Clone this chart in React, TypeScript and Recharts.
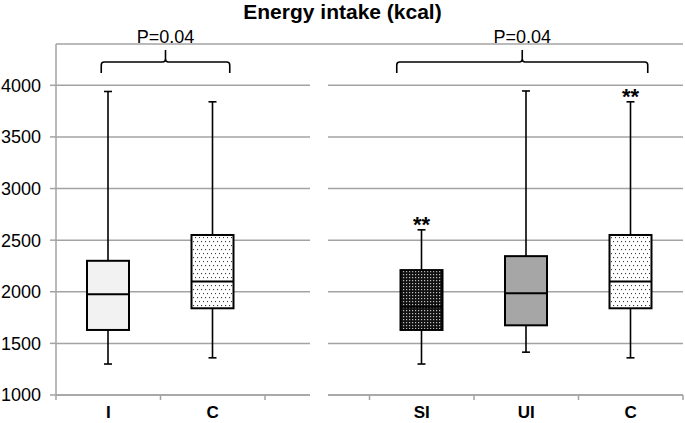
import React from 'react';
import { ComposedChart, Bar, XAxis, YAxis, CartesianGrid, ReferenceLine } from 'recharts';

// one axis, six slots; slot 3 is the empty gap between the two panels
const categoryKeys = ['I', 'C1', 'GAP', 'SI', 'UI', 'C2'];
const categoryLabels = ['I', 'C', '', 'SI', 'UI', 'C'];
const whiskerLow = [1300, 1360, null, 1300, 1415, 1360];
const quartile1 = [1630, 1840, null, 1630, 1675, 1840];
const medians = [1975, 2100, null, 1855, 1985, 2100];
const quartile3 = [2300, 2550, null, 2210, 2345, 2550];
const whiskerHigh = [3940, 3840, null, 2600, 3945, 3840];
const significance = ['', '', '', '**', '', '**'];
const yTicks = [1000, 1500, 2000, 2500, 3000, 3500, 4000];

const comparisonFrom = ['I', 'SI'];
const comparisonTo = ['C1', 'C2'];
const comparisonLabels = ['P=0.04', 'P=0.04'];
const comparisonLevel = 4225;

const boxFills = ['#f2f2f2', 'url(#dotsLight)', 'none', 'url(#dotsDark)', '#a6a6a6', 'url(#dotsLight)'];
const bracketPad = [
  [7, 17],
  [25, 17],
];

const data = categoryKeys.map((key, i) => ({
  key,
  label: categoryLabels[i],
  range: whiskerLow[i] == null ? undefined : [whiskerLow[i], whiskerHigh[i]],
  low: whiskerLow[i],
  q1: quartile1[i],
  median: medians[i],
  q3: quartile3[i],
  high: whiskerHigh[i],
  mark: significance[i],
  fill: boxFills[i],
}));

const FONT = '"Liberation Sans", Arial, Helvetica, sans-serif';
const TICK_SIZE = 6;
const TICK_MARGIN = 5;
const GRID = '#a3a3a3';

function BoxShape(props: any) {
  const { x, y, width, height, payload } = props;
  if (!payload || payload.range == null) return null;
  const top = Math.min(y, y + height);
  const bottom = Math.max(y, y + height);
  const toY = (v: number) => bottom - ((bottom - top) * (v - payload.low)) / (payload.high - payload.low);
  const cx = x + width / 2;
  const cap = 4;
  return (
    <g>
      <line x1={cx} x2={cx} y1={toY(payload.high)} y2={toY(payload.low)} stroke="#000" strokeWidth={1.6} />
      <line x1={cx - cap} x2={cx + cap} y1={toY(payload.high)} y2={toY(payload.high)} stroke="#000" strokeWidth={1.6} />
      <line x1={cx - cap} x2={cx + cap} y1={toY(payload.low)} y2={toY(payload.low)} stroke="#000" strokeWidth={1.6} />
      <rect
        x={x}
        y={toY(payload.q3)}
        width={width}
        height={toY(payload.q1) - toY(payload.q3)}
        fill={payload.fill}
        stroke="#000"
        strokeWidth={2}
      />
      <line x1={x} x2={x + width} y1={toY(payload.median)} y2={toY(payload.median)} stroke="#000" strokeWidth={2} />
      {payload.mark ? (
        <text x={cx} y={toY(payload.high) + 2} textAnchor="middle" fontSize={22} fontWeight="bold" fontFamily={FONT} fill="#000">
          {payload.mark}
        </text>
      ) : null}
    </g>
  );
}

function CategoryTick(props: any) {
  const { x, y, payload, index, visibleTicksCount } = props;
  const half = payload && payload.offset ? payload.offset : 52.25;
  const axisY = y - TICK_SIZE - TICK_MARGIN;
  const label = categoryLabels[categoryKeys.indexOf(payload.value)] ?? '';
  return (
    <g>
      <line x1={x - half} x2={x - half} y1={axisY} y2={axisY + 5} stroke={GRID} strokeWidth={1.5} />
      {index === visibleTicksCount - 1 ? (
        <line x1={x + half} x2={x + half} y1={axisY} y2={axisY + 5} stroke={GRID} strokeWidth={1.5} />
      ) : null}
      <text x={x} y={y} dy="0.71em" textAnchor="middle" fontSize={17} fontWeight="bold" fontFamily={FONT} fill="#000">
        {label}
      </text>
    </g>
  );
}

function Bracket(props: any) {
  const { x1, x2, y1, padL, padR, label } = props;
  const left = Math.min(x1, x2) - padL;
  const right = Math.max(x1, x2) + padR;
  const mid = (left + right) / 2;
  const y = y1;
  const r = 3;
  const d =
    `M${left},${y + 11} L${left},${y + r} Q${left},${y} ${left + r},${y} L${mid - r},${y} Q${mid},${y} ${mid},${y - r} L${mid},${y - 12} ` +
    `M${mid},${y - r} Q${mid},${y} ${mid + r},${y} L${right - r},${y} Q${right},${y} ${right},${y + r} L${right},${y + 11}`;
  return (
    <g>
      <path d={d} fill="none" stroke="#000" strokeWidth={1.6} />
      <text x={mid} y={y - 19} textAnchor="middle" fontSize={18} fontFamily={FONT} fill="#000">
        {label}
      </text>
    </g>
  );
}

export default function App() {
  return (
    <div style={{ position: 'absolute', left: 0, top: 0, width: 685, height: 423, background: '#fff', fontFamily: FONT }}>
      <div
        style={{
          position: 'absolute',
          left: 0,
          top: 0,
          width: 685,
          textAlign: 'center',
          fontSize: 21,
          fontWeight: 'bold',
          lineHeight: '24px',
          zIndex: 2,
        }}
      >
        Energy intake (kcal)
      </div>
      <ComposedChart width={685} height={423} data={data} margin={{ top: 44, right: 2, left: 0, bottom: 0 }}>
        <defs>
          <pattern id="dotsLight" patternUnits="userSpaceOnUse" width={4} height={8}>
            <rect width={4} height={8} fill="#fff" />
            <rect x={1} y={1} width={1.1} height={1.1} fill="#3a3a3a" />
            <rect x={3} y={5} width={1.1} height={1.1} fill="#3a3a3a" />
          </pattern>
          <pattern id="dotsDark" patternUnits="userSpaceOnUse" width={3} height={3}>
            <rect width={3} height={3} fill="#111" />
            <rect x={1} y={1} width={1.2} height={1.2} fill="#c0c0c0" />
          </pattern>
        </defs>
        <CartesianGrid vertical={false} stroke={GRID} strokeWidth={1.5} />
        <XAxis
          dataKey="key"
          interval={0}
          height={28}
          tickSize={TICK_SIZE}
          tickMargin={TICK_MARGIN}
          tickLine={false}
          axisLine={{ stroke: GRID, strokeWidth: 1.5 }}
          tick={<CategoryTick />}
        />
        <YAxis
          type="number"
          domain={[1000, 4400]}
          ticks={yTicks}
          width={56}
          tickSize={6}
          tickMargin={9}
          axisLine={{ stroke: GRID, strokeWidth: 1.5 }}
          tickLine={{ stroke: GRID, strokeWidth: 1.5 }}
          tick={{ fill: '#000', fontSize: 18, fontFamily: FONT }}
        />
        <Bar dataKey="range" barSize={42} isAnimationActive={false} shape={<BoxShape />} />
        {comparisonFrom.map((from, i) => (
          <ReferenceLine
            key={from}
            segment={[
              { x: from, y: comparisonLevel },
              { x: comparisonTo[i], y: comparisonLevel },
            ]}
            stroke="#000"
            shape={(p: any) => <Bracket {...p} padL={bracketPad[i][0]} padR={bracketPad[i][1]} label={comparisonLabels[i]} />}
          />
        ))}
      </ComposedChart>
      <div style={{ position: 'absolute', left: 310, top: 78, width: 18, height: 322, background: '#fff' }} />
    </div>
  );
}
